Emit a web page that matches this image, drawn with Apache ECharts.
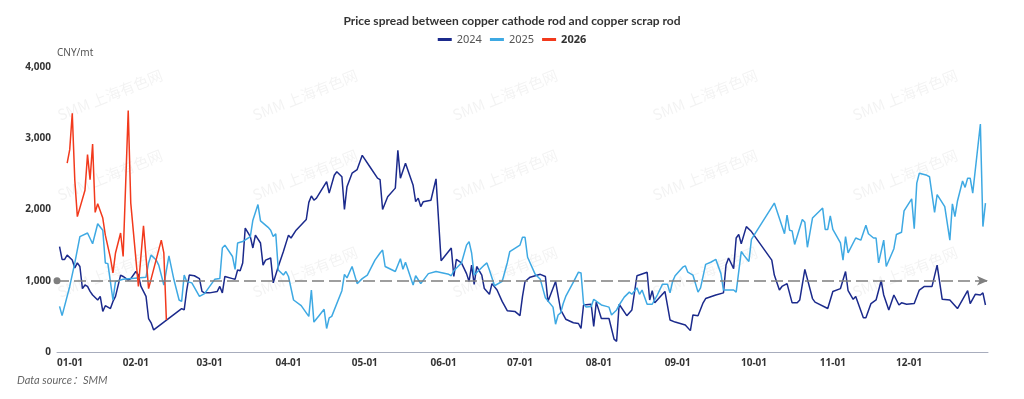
<!DOCTYPE html>
<html>
<head>
<meta charset="utf-8">
<script src="https://cdn.jsdelivr.net/npm/echarts@6/dist/echarts.min.js"></script>
<style>
    html, body { margin: 0; padding: 0; background: #fff; }
    #chart { width: 1024px; height: 399px; }
</style>
</head>
<body>
<div id="chart"></div>
<script>
// month ticks on the x axis
const monthTicks = ['01-01', '02-01', '03-01', '04-01', '05-01', '06-01',
    '07-01', '08-01', '09-01', '10-01', '11-01', '12-01'];
const yTicks = [0, 1000, 2000, 3000, 4000];
const refLevel = 1000;

const dates2024 = ['01-02', '01-03', '01-04', '01-05', '01-07', '01-08', '01-09', '01-10', '01-11', '01-12',
    '01-13', '01-14', '01-15', '01-17', '01-18', '01-19', '01-20', '01-21', '01-22', '01-23',
    '01-24', '01-26', '01-27', '01-29', '01-30', '02-01', '02-02', '02-03', '02-04', '02-05',
    '02-06', '02-07', '02-08', '02-19', '02-20', '02-21', '02-22', '02-24', '02-26', '02-27',
    '02-28', '03-01', '03-04', '03-05', '03-06', '03-07', '03-10', '03-11', '03-12', '03-13',
    '03-14', '03-15', '03-17', '03-18', '03-19', '03-21', '03-22', '03-23', '03-25', '03-26',
    '03-28', '03-30', '04-01', '04-02', '04-04', '04-08', '04-09', '04-10', '04-11', '04-12',
    '04-16', '04-17', '04-19', '04-20', '04-22', '04-23', '04-24', '04-26', '04-28', '04-30',
    '05-03', '05-06', '05-07', '05-08', '05-10', '05-13', '05-14', '05-15', '05-17', '05-20',
    '05-21', '05-22', '05-23', '05-24', '05-27', '05-29', '05-31', '06-04', '06-05', '06-06',
    '06-08', '06-10', '06-11', '06-12', '06-13', '06-14', '06-16', '06-17', '06-19', '06-20',
    '06-22', '06-24', '06-26', '06-29', '07-01', '07-02', '07-03', '07-05', '07-09', '07-11',
    '07-12', '07-15', '07-17', '07-19', '07-22', '07-24', '07-25', '07-26', '07-29', '07-30',
    '07-31', '08-02', '08-05', '08-07', '08-08', '08-09', '08-12', '08-14', '08-16', '08-20',
    '08-21', '08-22', '08-23', '08-27', '08-29', '08-31', '09-04', '09-06', '09-07', '09-09',
    '09-11', '09-12', '09-16', '09-19', '09-20', '09-21', '09-23', '09-24', '09-25', '09-26',
    '09-28', '09-30', '10-08', '10-09', '10-11', '10-12', '10-14', '10-16', '10-18', '10-19',
    '10-21', '10-24', '10-25', '10-30', '11-01', '11-04', '11-06', '11-07', '11-09', '11-10',
    '11-13', '11-14', '11-16', '11-18', '11-20', '11-21', '11-23', '11-25', '11-27', '11-28',
    '11-30', '12-03', '12-05', '12-07', '12-10', '12-12', '12-14', '12-17', '12-20', '12-24',
    '12-25', '12-27', '12-29', '12-30', '12-31'];
const values2024 = [1480, 1300, 1300, 1360, 1290, 1180, 1250, 1200, 890, 940,
    920, 850, 800, 730, 780, 570, 650, 630, 610, 710,
    780, 1080, 1060, 1010, 1030, 1130, 1080, 920, 850, 780,
    470, 410, 310, 610, 590, 870, 1080, 1070, 1030, 850,
    830, 830, 850, 920, 830, 1060, 1030, 1020, 1150, 1140,
    1250, 1740, 1620, 1460, 1640, 1530, 1220, 1290, 1320, 970,
    1200, 1410, 1640, 1600, 1710, 1860, 2100, 2190, 2130, 2160,
    2390, 2230, 2480, 2530, 2460, 2000, 2320, 2510, 2560, 2760,
    2600, 2440, 2420, 2000, 2180, 2300, 2830, 2440, 2650, 2340,
    2110, 2160, 2040, 2110, 2130, 2430, 1280, 1460, 1060, 1300,
    1250, 1100, 990, 1220, 950, 1200, 1080, 890, 810, 960,
    870, 710, 580, 570, 510, 780, 990, 1050, 1090, 1060,
    710, 990, 590, 460, 410, 400, 330, 660, 670, 360,
    700, 470, 470, 180, 150, 670, 510, 590, 1070, 1120,
    730, 860, 690, 850, 450, 420, 380, 300, 520, 510,
    690, 750, 800, 830, 1220, 1320, 1170, 1600, 1650, 1520,
    1760, 1690, 1290, 1080, 870, 920, 960, 690, 690, 730,
    1160, 750, 700, 610, 850, 890, 1130, 860, 740, 780,
    480, 480, 680, 730, 1000, 800, 590, 800, 660, 690,
    670, 680, 870, 920, 920, 1220, 740, 730, 610, 860,
    680, 810, 800, 830, 660];

const dates2025 = ['01-02', '01-03', '01-06', '01-08', '01-10', '01-13', '01-15', '01-17', '01-19', '01-20',
    '01-21', '01-23', '01-24', '01-27', '02-05', '02-06', '02-07', '02-09', '02-10', '02-12',
    '02-14', '02-16', '02-18', '02-19', '02-20', '02-21', '02-23', '02-26', '02-28', '03-03',
    '03-05', '03-06', '03-07', '03-10', '03-11', '03-12', '03-14', '03-17', '03-18', '03-20',
    '03-21', '03-24', '03-25', '03-26', '03-27', '03-28', '03-30', '03-31', '04-01', '04-03',
    '04-06', '04-08', '04-09', '04-10', '04-11', '04-13', '04-15', '04-16', '04-17', '04-18',
    '04-22', '04-23', '04-24', '04-26', '04-28', '04-30', '05-02', '05-05', '05-07', '05-08',
    '05-09', '05-13', '05-15', '05-16', '05-17', '05-20', '05-21', '05-23', '05-26', '05-29',
    '06-03', '06-04', '06-05', '06-08', '06-10', '06-11', '06-12', '06-13', '06-17', '06-18',
    '06-19', '06-21', '06-24', '06-26', '06-27', '07-01', '07-02', '07-03', '07-04', '07-07',
    '07-09', '07-11', '07-14', '07-15', '07-16', '07-17', '07-18', '07-19', '07-22', '07-24',
    '07-25', '07-26', '07-27', '07-29', '07-30', '08-02', '08-04', '08-05', '08-06', '08-08',
    '08-09', '08-11', '08-13', '08-14', '08-16', '08-17', '08-18', '08-20', '08-22', '08-24',
    '08-26', '08-28', '08-29', '08-30', '08-31', '09-03', '09-04', '09-05', '09-07', '09-09',
    '09-10', '09-12', '09-14', '09-16', '09-18', '09-19', '09-23', '09-24', '09-26', '09-27',
    '09-29', '09-30', '10-09', '10-13', '10-14', '10-15', '10-16', '10-17', '10-20', '10-21',
    '10-22', '10-24', '10-28', '10-29', '10-30', '10-31', '11-01', '11-04', '11-05', '11-06',
    '11-07', '11-10', '11-12', '11-14', '11-15', '11-17', '11-18', '11-19', '11-21', '11-22',
    '11-25', '11-26', '11-28', '11-29', '12-02', '12-03', '12-04', '12-05', '12-08', '12-09',
    '12-11', '12-12', '12-15', '12-17', '12-18', '12-19', '12-20', '12-22', '12-23', '12-24',
    '12-25', '12-26', '12-29', '12-30', '12-31'];
const values2025 = [640, 510, 920, 1250, 1620, 1670, 1520, 1800, 1710, 1250,
    1240, 730, 990, 1020, 1050, 1250, 1360, 1290, 1220, 940,
    1350, 1010, 730, 710, 1080, 990, 970, 780, 820, 1020,
    1030, 1460, 1500, 1340, 1160, 1530, 1550, 1620, 1850, 2070,
    1840, 1750, 1710, 1620, 1660, 1150, 1080, 1130, 1060, 730,
    650, 550, 500, 870, 420, 510, 600, 330, 480, 500,
    860, 1090, 1040, 1200, 960, 1030, 1080, 1290, 1390, 1430,
    1200, 1130, 1310, 1160, 1260, 940, 1070, 960, 1100, 1130,
    1090, 1070, 1140, 1250, 1500, 1550, 1390, 1080, 1220, 1250,
    1150, 930, 990, 1250, 1410, 1500, 1610, 1610, 1330, 1090,
    1020, 760, 630, 390, 520, 550, 680, 780, 980, 1120,
    1110, 680, 630, 640, 740, 660, 640, 630, 520, 590,
    660, 770, 840, 810, 900, 810, 870, 670, 670, 800,
    950, 950, 830, 990, 1070, 1190, 1210, 1120, 1080, 840,
    900, 1230, 1260, 1300, 1100, 870, 870, 840, 1410, 1360,
    1270, 1580, 2090, 1660, 1920, 1710, 1700, 1510, 1860, 1820,
    1470, 1880, 2020, 1720, 1720, 1910, 1720, 1530, 1290, 1620,
    1390, 1600, 1570, 1780, 1660, 1600, 1600, 1250, 1570, 1200,
    1450, 1650, 1680, 1980, 2150, 1730, 2370, 2510, 2480, 2460,
    1960, 2210, 2040, 1570, 2080, 1900, 2120, 2400, 2310, 2440,
    2440, 2230, 3200, 1760, 2090];

const dates2026 = ['01-05', '01-06', '01-07', '01-08', '01-09', '01-12', '01-13', '01-14', '01-15', '01-16',
    '01-17', '01-19', '01-20', '01-22', '01-23', '01-24', '01-26', '01-27', '01-29', '01-30',
    '02-02', '02-04', '02-06', '02-11', '02-12', '02-13'];
const values2026 = [2650, 2840, 3350, 2410, 1900, 2270, 2770, 2420, 2920, 1960,
    2080, 1880, 1640, 1320, 1110, 1390, 1670, 1340, 3390, 2090,
    920, 1770, 890, 1570, 1390, 450];

// all years are laid on one common calendar year
function toTime(md) {
    let p = md.split('-');
    return new Date(2024, +p[0] - 1, +p[1]).getTime();
}
function pairs(dates, values) {
    return dates.map((d, i) => [toTime(d), values[i]]);
}
function pad(n) {
    return (n < 10 ? '0' : '') + n;
}

let color = ['#1b2a8c', '#3ea9e3', '#f2391c'];

let watermarks = [];
[95, 175, 272].forEach((y) => {
    [110, 305, 505, 705, 905].forEach((x) => {
        watermarks.push({
            type: 'text',
            x: x,
            y: y,
            rotation: 0.38,
            silent: true,
            z: -1,
            style: {
                text: 'SMM 上海有色网',
                fill: 'rgba(0,0,0,0.05)',
                font: '15px "Noto Sans CJK SC", sans-serif',
                align: 'center',
                verticalAlign: 'middle'
            }
        });
    });
});

let option = {
    animation: false,
    backgroundColor: '#fff',
    textStyle: {
        fontFamily: '"Noto Sans", "Noto Sans CJK SC", sans-serif'
    },
    title: {
        text: 'Price spread between copper cathode rod and copper scrap rod',
        left: 'center',
        top: 10,
        textStyle: {
            fontFamily: 'Lato, "Noto Sans", sans-serif',
            fontSize: 12,
            fontWeight: 'bold',
            color: '#333'
        }
    },
    legend: {
        top: 29,
        left: 'center',
        icon: 'rect',
        itemWidth: 14,
        itemHeight: 3,
        itemGap: 8,
        data: ['2024', '2025', '2026'],
        formatter: (name) => {
            if (name === '2026') {
                return '{b|' + name + '}';
            }
            return name;
        },
        textStyle: {
            fontSize: 11,
            color: '#555',
            rich: {
                b: {
                    fontSize: 11,
                    fontWeight: 'bold',
                    color: '#333'
                }
            }
        }
    },
    grid: {
        left: 57,
        right: 36,
        top: 67,
        bottom: 47,
        containLabel: false
    },
    xAxis: {
        type: 'value',
        min: toTime('01-01'),
        max: new Date(2025, 0, 1).getTime(),
        axisLine: {
            lineStyle: {
                color: '#a8adbd',
                width: 1
            }
        },
        axisTick: {
            show: false
        },
        splitLine: {
            show: false
        },
        axisLabel: {
            customValues: monthTicks.map(toTime),
            alignMinLabel: 'left',
            margin: 6,
            fontSize: 10,
            fontWeight: 'bold',
            color: '#333',
            formatter: (v) => {
                let d = new Date(v);
                return pad(d.getMonth() + 1) + '-' + pad(d.getDate());
            }
        }
    },
    yAxis: {
        type: 'value',
        min: yTicks[0],
        max: yTicks[yTicks.length - 1],
        interval: 1000,
        name: 'CNY/mt',
        nameGap: 9,
        nameTextStyle: {
            color: '#555',
            fontSize: 10,
            align: 'left'
        },
        axisLine: {
            show: false
        },
        axisTick: {
            show: false
        },
        splitLine: {
            show: false
        },
        axisLabel: {
            margin: 6,
            fontSize: 10,
            fontWeight: 'bold',
            color: '#333',
            formatter: (v) => v.toLocaleString('en-US')
        }
    },
    graphic: watermarks.concat([
        {
            type: 'text',
            left: 17,
            top: 375,
            style: {
                text: 'Data source：SMM',
                fill: '#666',
                font: 'italic 11px Lato, "Noto Sans CJK SC", sans-serif'
            }
        }
    ]),
    series: [
        {
            name: '2024',
            type: 'line',
            data: pairs(dates2024, values2024),
            showSymbol: false,
            lineStyle: {
                color: color[0],
                width: 1.5
            },
            itemStyle: {
                color: color[0]
            },
            markLine: {
                silent: true,
                symbol: ['circle', 'arrow'],
                symbolSize: [7, 11],
                label: {
                    show: false
                },
                lineStyle: {
                    color: '#7f7f7f',
                    type: [12, 5],
                    width: 1.5
                },
                data: [{yAxis: refLevel}]
            }
        },
        {
            name: '2025',
            type: 'line',
            data: pairs(dates2025, values2025),
            showSymbol: false,
            lineStyle: {
                color: color[1],
                width: 1.5
            },
            itemStyle: {
                color: color[1]
            }
        },
        {
            name: '2026',
            type: 'line',
            data: pairs(dates2026, values2026),
            showSymbol: false,
            lineStyle: {
                color: color[2],
                width: 1.5
            },
            itemStyle: {
                color: color[2]
            }
        }
    ]
};

let chart = echarts.init(document.getElementById('chart'));
chart.setOption(option);
</script>
</body>
</html>
